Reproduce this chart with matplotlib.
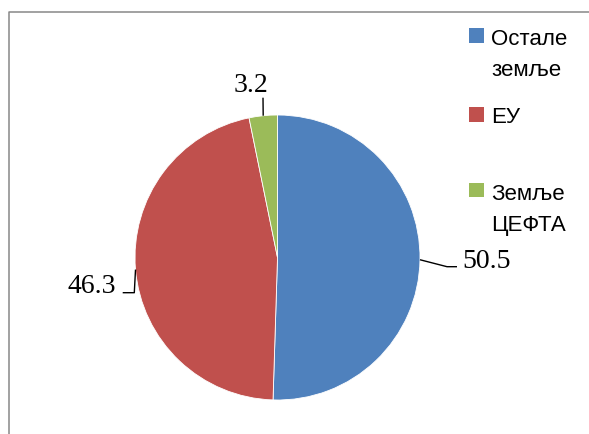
import matplotlib
matplotlib.use("Agg")
import matplotlib.pyplot as plt
import numpy as np
from matplotlib.patches import Rectangle
from matplotlib.lines import Line2D

# ------------------------------------------------------------
# data
# ------------------------------------------------------------
categories = ["Остале\nземље", "ЕУ", "Земље\nЦЕФТА"]
values = [50.5, 46.3, 3.2]
value_labels = ["50.5", "46.3", "3.2"]
colors = ["#4F81BD", "#C0504D", "#9BBB59"]

# ------------------------------------------------------------
# layout (pixels, origin top-left)
# ------------------------------------------------------------
W, H = 589, 434
cx, cy, R = 277.5, 257.5, 142.5

def px(x, y):
    # pixel -> pie data coords
    return (x - cx) / R, (cy - y) / R

fig = plt.figure(figsize=(W / 100, H / 100), dpi=100)
ax = fig.add_axes([(cx - R) / W, 1 - (cy + R) / H, 2 * R / W, 2 * R / H])

wedges, _ = ax.pie(values, colors=colors, startangle=90, counterclock=False,
                   radius=1, wedgeprops=dict(linewidth=0.6, edgecolor="white"))
ax.set_xlim(-1, 1)
ax.set_ylim(-1, 1)
ax.set_aspect("equal")
ax.axis("off")

# leader lines + value labels
leader_pts = [[(447, 266.7), (457, 266.7)],
              [(134.3, 292.7), (122.7, 292.7)],
              [(263.0, 97.7)]]
text_pos = [(462, 267.5, "left"), (116.5, 292.7, "right"), (250.5, 92.5, "center")]

for w, lab, pts, (tx, ty, ha) in zip(wedges, value_labels, leader_pts, text_pos):
    ang = np.deg2rad((w.theta1 + w.theta2) / 2)
    xs = [np.cos(ang)] + [px(*p)[0] for p in pts]
    ys = [np.sin(ang)] + [px(*p)[1] for p in pts]
    ax.plot(xs, ys, color="black", lw=1.0, clip_on=False, solid_capstyle="butt")
    x, y = px(tx, ty)
    ax.text(x, y, lab, ha=ha, va="baseline", fontsize=20,
            family="Liberation Serif", color="black", clip_on=False)

# legend (drawn by hand to follow the uneven Excel spacing)
leg_top = [28, 107, 183]
leg_base = [45, 122.7, 200]
for lab, col, top, base in zip(categories, colors, leg_top, leg_base):
    fig.add_artist(Rectangle((469 / W, 1 - (top + 14.5) / H), 14.5 / W, 14.5 / H,
                             transform=fig.transFigure, facecolor=col, edgecolor="none"))
    for i, line in enumerate(lab.split("\n")):
        fig.text(491 / W, 1 - (base + i * 30.5) / H, line, ha="left", va="baseline",
                 fontsize=16, family=["Liberation Sans", "DejaVu Sans"], color="black")

# chart area border (cropped at right and bottom)
fig.add_artist(Line2D([9 / W, 9 / W, 1.0], [0.0, 1 - 12 / H, 1 - 12 / H],
                      transform=fig.transFigure, color="#878787", lw=1.1))

fig.savefig("out.png", dpi=100)
